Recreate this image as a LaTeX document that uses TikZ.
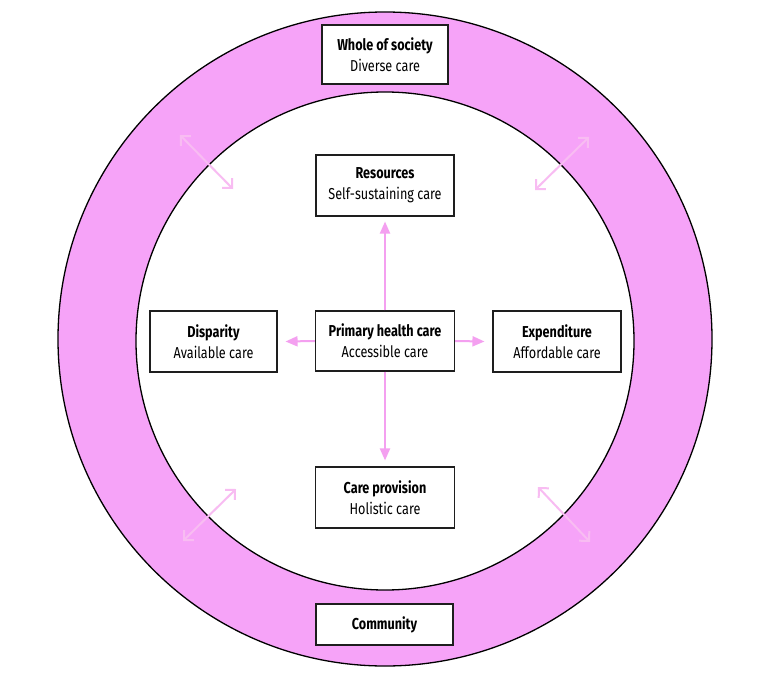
\documentclass[tikz,border=0pt]{standalone}
\usepackage{fontspec}
\setmainfont[FakeStretch=0.8]{Fira Sans}
\usetikzlibrary{arrows.meta}
\definecolor{ringpink}{RGB}{246,163,248}
\definecolor{arrowpink}{RGB}{244,160,240}
\definecolor{diagpink}{RGB}{248,188,242}
\definecolor{boxline}{RGB}{30,30,30}
\tikzset{
  cbox/.style={draw=boxline, line width=1.1pt, fill=white, minimum width=138pt, minimum height=61pt, align=center, inner sep=0pt, font=\fontsize{15.8}{21}\selectfont},
  mainarrow/.style={draw=arrowpink, line width=2pt, -{Triangle[length=12pt,width=10pt]}},
  diagarrow/.style={draw=diagpink, line width=2pt, {Straight Barb[length=7pt,width=14pt]}-{Straight Barb[length=7pt,width=14pt]}},
}
\begin{document}
\begin{tikzpicture}[x=1pt,y=-1pt]
\useasboundingbox (0,0) rectangle (771,677);
\fill[white] (0,0) rectangle (771,677);
% ring
\fill[ringpink, even odd rule] (385,339) circle (327) (385,341) circle (249);
\draw[black, line width=1.3pt] (385,339) circle (327);
\draw[black, line width=1.3pt] (385,341) circle (249);
% diagonal arrows
\coordinate (d1a) at (180,135); \coordinate (d1b) at (233,189);
\coordinate (d2a) at (589,137); \coordinate (d2b) at (535,190);
\coordinate (d3a) at (183,541); \coordinate (d3b) at (236,489);
\coordinate (d4a) at (538,487); \coordinate (d4b) at (590,542);
\draw[diagarrow] (d1a) -- (d1b);
\draw[diagarrow] (d2a) -- (d2b);
\draw[diagarrow] (d3a) -- (d3b);
\draw[diagarrow] (d4a) -- (d4b);
% boxes
\node[cbox, minimum width=126pt, minimum height=59pt] (soc) at (385,54.5) {\textbf{Whole of society}\\Diverse care};
\node[cbox] (res) at (385,185.5) {\textbf{Resources}\\Self-sustaining care};
\node[cbox, minimum width=139pt, minimum height=60pt] (phc) at (385,341) {\textbf{Primary health care}\\Accessible care};
\node[cbox, minimum width=127pt] (dis) at (213.5,341.5) {\textbf{Disparity}\\Available care};
\node[cbox, minimum width=128pt] (exp) at (557,341.5) {\textbf{Expenditure}\\Affordable care};
\node[cbox, minimum width=139pt] (cp) at (385,497.5) {\textbf{Care provision}\\Holistic care};
\node[cbox, minimum width=137pt, minimum height=41pt] (com) at (384.5,624.5) {\textbf{Community}};
% main arrows
\draw[mainarrow] (phc.north) -- ([yshift=-5pt]res.south);
\draw[mainarrow] (phc.south) -- ([yshift=6pt]cp.north);
\draw[mainarrow] (phc.west) -- ([xshift=8pt]dis.east);
\draw[mainarrow] (phc.east) -- ([xshift=-8pt]exp.west);
\end{tikzpicture}
\end{document}
